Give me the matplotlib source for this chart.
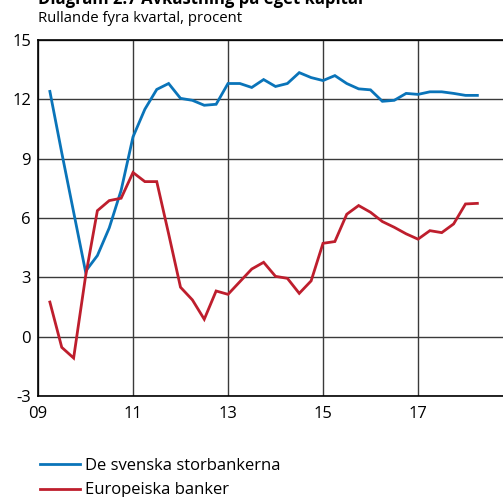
import numpy as np
import matplotlib
matplotlib.use("Agg")
import matplotlib.pyplot as plt
from matplotlib.lines import Line2D

plt.rcParams['font.family'] = ['Open Sans', 'DejaVu Sans']

# quarterly, 2009 Q2 .. 2018 Q2
quarters = 2009.25 + 0.25 * np.arange(37)
svenska = [12.4, 9.3, 6.3, 3.3, 4.1, 5.5, 7.4, 10.1, 11.5, 12.5, 12.8, 12.05,
           11.95, 11.7, 11.75, 12.8, 12.8, 12.6, 13.0, 12.65, 12.8, 13.35, 13.1,
           12.95, 13.2, 12.8, 12.53, 12.48, 11.9, 11.95, 12.3, 12.25, 12.38,
           12.38, 12.3, 12.2, 12.2]
europeiska = [1.75, -0.54, -1.08, 3.03, 6.37, 6.88, 7.0, 8.3, 7.84, 7.84, 5.2,
              2.5, 1.86, 0.88, 2.31, 2.14, 2.78, 3.42, 3.76, 3.05, 2.95, 2.19,
              2.82, 4.72, 4.81, 6.19, 6.63, 6.29, 5.82, 5.53, 5.2, 4.93, 5.36,
              5.26, 5.7, 6.71, 6.74]
yticks = [-3, 0, 3, 6, 9, 12, 15]
xticks = [2009, 2011, 2013, 2015, 2017]
xlabels = ['09', '11', '13', '15', '17']

blue = '#0A74B9'
red = '#BE1E2D'

fig = plt.figure(figsize=(5.03, 4.97), dpi=100)
ax = fig.add_axes([38/503, 1 - 396/497, 1 - 38/503, (396 - 40)/497])

ax.plot(quarters, svenska, color=blue, lw=2.0, solid_joinstyle='miter', zorder=3)
ax.plot(quarters, europeiska, color=red, lw=2.0, solid_joinstyle='miter', zorder=3)

ax.set_xlim(2009, 2009 + (503 - 38) / 47.5)
ax.set_ylim(-3, 15)
ax.set_yticks(yticks)
ax.set_yticklabels([str(v) for v in yticks])
ax.set_xticks(xticks)
ax.set_xticklabels(xlabels)
ax.tick_params(length=0, labelsize=12, colors='black')
ax.tick_params(axis='x', pad=7)
ax.tick_params(axis='y', pad=5)
ax.grid(True, color='#3a3a3a', lw=1.0)
ax.set_axisbelow(True)
ax.spines['right'].set_visible(False)
for s in ['left', 'bottom', 'top']:
    ax.spines[s].set_color('black')
    ax.spines[s].set_linewidth(1.2)

fig.text(38/503, 1 + 2/497, 'Diagram 2:7 Avkastning på eget kapital',
         fontsize=12, fontweight='bold', va='center', ha='left')
fig.text(38/503, 1 - 18/497, 'Rullande fyra kvartal, procent',
         fontsize=10.7, va='center', ha='left')

handles = [Line2D([], [], color=blue, lw=2), Line2D([], [], color=red, lw=2)]
fig.legend(handles, ['De svenska storbankerna', 'Europeiska banker'],
           loc='upper left', bbox_to_anchor=(40/503, 1 - 458/497), frameon=False,
           fontsize=12, handlelength=2.4, handletextpad=0.3, labelspacing=0.5,
           borderpad=0, borderaxespad=0)

fig.savefig('out.png', dpi=100)
